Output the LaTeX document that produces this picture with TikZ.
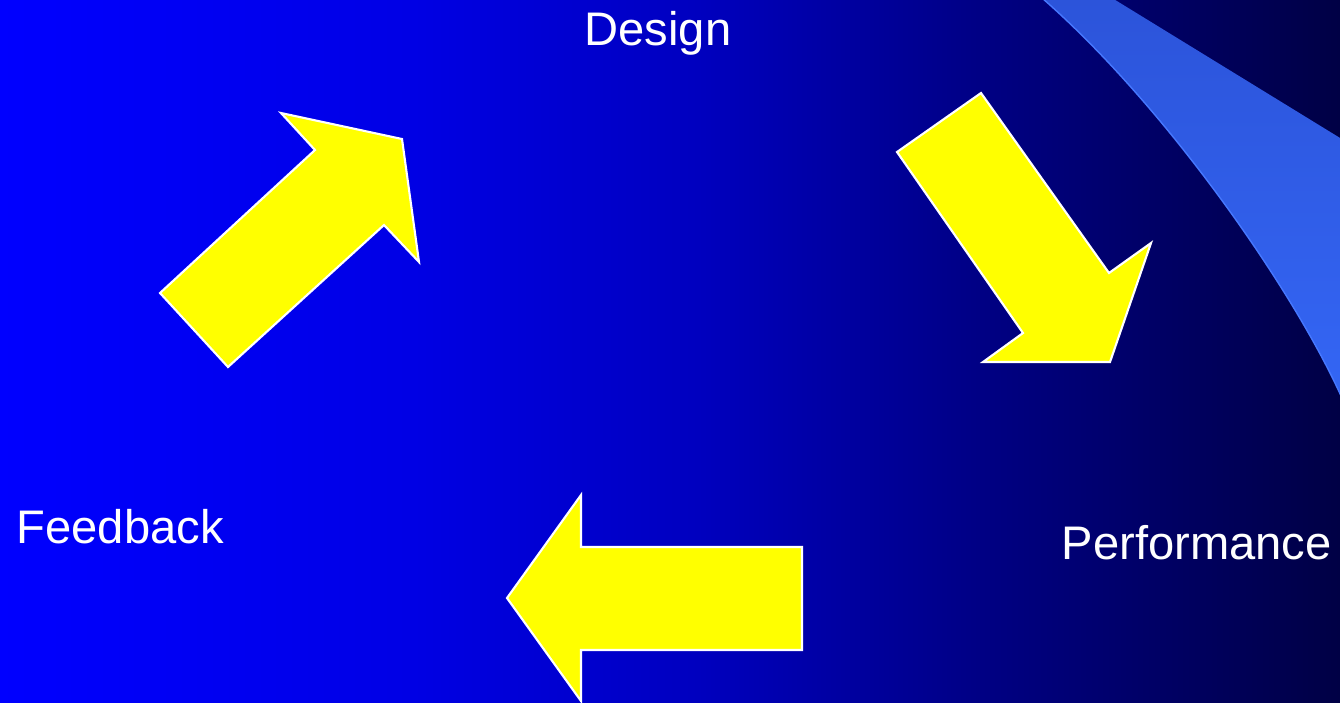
\documentclass[tikz,border=0pt]{standalone}
\usepackage{fontspec}
\setmainfont{Liberation Sans}
\usetikzlibrary{positioning}

\definecolor{arrowyellow}{RGB}{255,255,0}
\definecolor{swooshtop}{RGB}{44,84,218}
\definecolor{swooshbot}{RGB}{52,102,245}
\definecolor{swooshedge}{RGB}{70,120,255}
\pgfdeclarehorizontalshading{slidebg}{100bp}{rgb(0bp)=(0,0,1); rgb(25bp)=(0,0,1); rgb(40bp)=(0,0,0.9); rgb(51bp)=(0,0,0.75); rgb(62bp)=(0,0,0.51); rgb(75bp)=(0,0,0.27); rgb(100bp)=(0,0,0.27)}

\begin{document}
\begin{tikzpicture}[
  x=0.01cm, y=-0.01cm,
  blockarrow/.style={
    fill=arrowyellow,
    draw=white,
    line width=0.6pt,
    line join=miter
  },
  label/.style={
    text=white,
    inner sep=0pt,
    anchor=base west,
    font=\fontsize{13.4pt}{15pt}\selectfont
  }
]
\useasboundingbox (0,0) rectangle (1340,702);
\begin{scope}
\clip (0,0) rectangle (1340,702);
\shade[shading=slidebg] (0,0) rectangle (1340,702);
% swoosh in the top right corner
\shade[top color=swooshtop, bottom color=swooshbot]
  (1042,-2) .. controls (1170,110) and (1300,300) .. (1345,405)
  -- (1345,141) -- (1112,-2) -- cycle;
\draw[swooshedge, line width=0.4pt]
  (1042,-2) .. controls (1170,110) and (1300,300) .. (1345,405);
\end{scope}

\node[label] (design) at (584,45) {Design};
\node[label] (feedback) at (16,543) {Feedback};
\node[label] (performance) at (1061,559) {Performance};

% feedback -> design
\draw[blockarrow] (160,293) -- (315,150) -- (281,113) -- (402,139)
  -- (419,262) -- (384,225) -- (228,367) -- cycle;
% design -> performance
\draw[blockarrow] (981,93) -- (897,152) -- (1023,333) -- (983,362)
  -- (1110,362) -- (1151,243) -- (1109,273) -- cycle;
% performance -> feedback
\draw[blockarrow] (802,547) -- (802,650) -- (581,650) -- (581,701)
  -- (507,598) -- (581,495) -- (581,547) -- cycle;
\end{tikzpicture}
\end{document}
